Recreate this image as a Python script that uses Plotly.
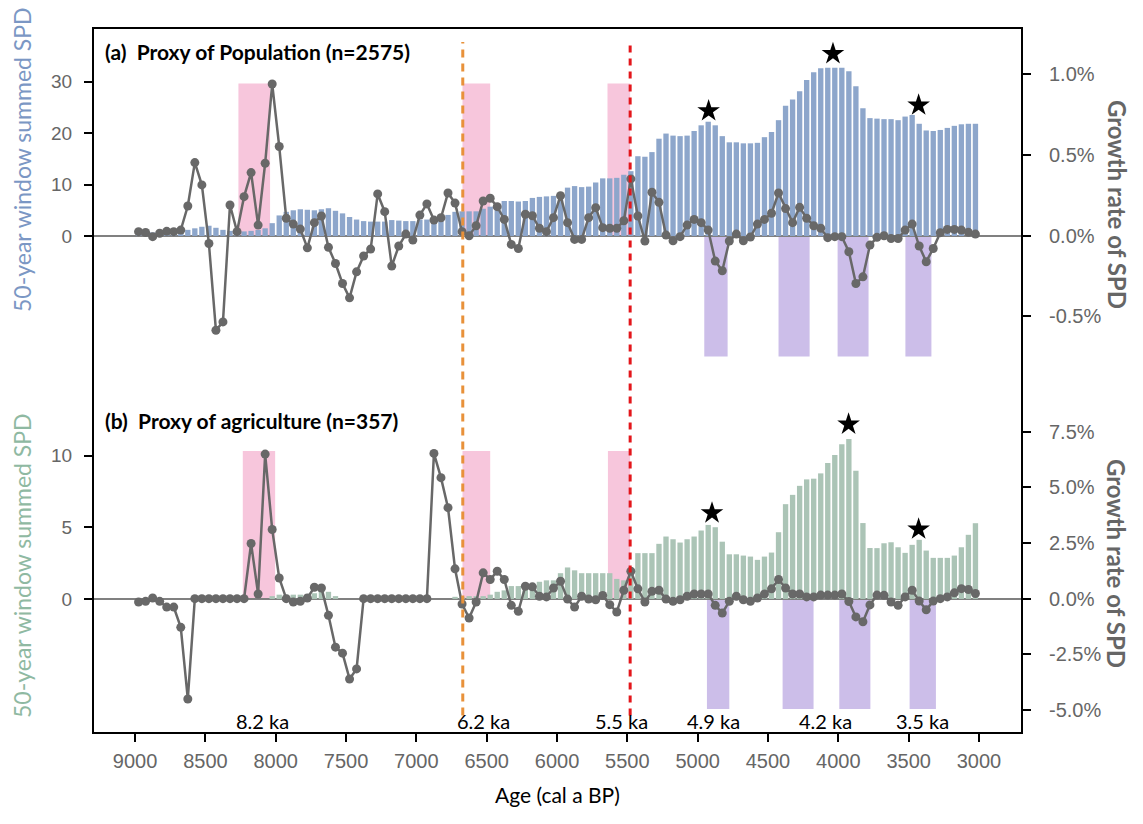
import plotly.graph_objects as go

# 50-year bins, bin centres (cal a BP)
ages = list(range(8975, 2999, -50))

# (a) population proxy: summed SPD (left axis) and growth rate in % (right axis)
spd_pop = [
    0.5, 0.6, 0.7, 0.8, 0.9, 1.0, 1.0, 1.2, 1.5, 1.8,
    2.0, 1.6, 1.2, 1.0, 0.9, 0.9, 1.0, 1.2, 1.5, 2.5,
    4.0, 4.7, 5.0, 5.2, 5.1, 5.0, 5.2, 5.4, 4.9, 4.4,
    3.7, 3.2, 2.9, 2.8, 2.8, 2.8, 3.1, 3.0, 2.9, 2.9,
    3.2, 3.2, 3.4, 3.8, 4.1, 4.7, 4.8, 4.8, 4.8, 5.3,
    5.7, 6.2, 6.8, 6.8, 6.7, 6.8, 7.4, 7.6, 7.7, 7.8,
    7.9, 9.4, 9.7, 9.5, 9.6, 10.4, 11.2, 11.2, 11.3, 11.9,
    12.6, 15.5, 15.4, 16.3, 18.9, 19.9, 19.5, 19.4, 19.5, 20.4,
    21.5, 22.2, 21.5, 19.4, 18.2, 18.2, 18.0, 18.0, 18.1, 19.2,
    20.2, 22.5, 25.3, 26.5, 28.1, 30.3, 31.8, 32.6, 32.7, 32.7,
    32.7, 32.0, 29.1, 24.8, 22.9, 22.8, 22.7, 22.7, 22.5, 23.2,
    23.5, 21.8, 20.5, 20.4, 20.6, 21.0, 21.4, 21.7, 21.8, 21.8,
]
rate_pop = [
    0.025, 0.02, -0.006, 0.015, 0.027, 0.025, 0.035, 0.184, 0.453, 0.315,
    -0.048, -0.586, -0.534, 0.19, 0.025, 0.242, 0.391, 0.066, 0.449, 0.94,
    0.553, 0.108, 0.072, 0.041, -0.075, 0.081, 0.122, -0.072, -0.172, -0.296,
    -0.385, -0.224, -0.126, -0.083, 0.259, 0.149, -0.188, -0.064, 0.01, -0.027,
    0.128, 0.197, 0.097, 0.111, 0.265, 0.202, 0.025, 0.0, 0.062, 0.215,
    0.232, 0.18, 0.101, -0.054, -0.079, 0.133, 0.124, 0.046, 0.025, 0.112,
    0.248, 0.081, -0.023, -0.023, 0.112, 0.174, 0.05, 0.046, 0.046, 0.093,
    0.352, 0.122, -0.033, 0.269, 0.207, 0.004, -0.031, -0.006, 0.066, 0.101,
    0.081, 0.035, -0.157, -0.217, -0.033, 0.01, -0.031, -0.008, 0.072, 0.101,
    0.139, 0.265, 0.168, 0.081, 0.176, 0.108, 0.062, 0.046, -0.012, -0.006,
    -0.006, -0.099, -0.296, -0.255, -0.058, -0.01, 0.0, -0.017, -0.017, 0.035,
    0.072, -0.064, -0.161, -0.079, 0.019, 0.039, 0.039, 0.035, 0.021, 0.01,
]

# (b) agriculture proxy
spd_agr = [
    0, 0, 0, 0, 0, 0, 0, 0, 0, 0,
    0, 0, 0, 0, 0, 0, 0, 0, 0, 0.2,
    0.3, 0.3, 0.3, 0.3, 0.3, 0.4, 0.6, 0.5, 0.2, 0,
    0, 0, 0, 0, 0, 0, 0, 0, 0, 0,
    0, 0, 0, 0, 0, 0.15, 0.15, 0.2, 0.2, 0.2,
    0.3, 0.5, 0.6, 0.9, 0.9, 0.9, 1.0, 1.2, 1.3, 1.3,
    1.8, 2.2, 2.0, 1.8, 1.8, 1.8, 1.8, 1.8, 1.4, 1.3,
    1.6, 3.2, 3.2, 3.2, 3.85, 4.36, 4.17, 3.94, 4.17, 4.36,
    4.78, 5.17, 5.01, 4.0, 3.12, 3.12, 3.03, 2.96, 2.73, 2.96,
    3.24, 4.66, 6.62, 7.27, 7.9, 8.35, 8.4, 8.77, 9.5, 10.05,
    10.8, 11.17, 8.95, 5.3, 3.56, 3.55, 3.89, 3.96, 3.61, 3.22,
    3.78, 4.13, 3.38, 2.87, 2.87, 2.87, 3.03, 3.61, 4.48, 5.29,
]
rate_agr = [
    -0.15, -0.12, 0.03, -0.12, -0.38, -0.38, -1.29, -4.51, 0, 0,
    0, 0, 0, 0, 0, 0, 2.48, 0.21, 6.5, 3.11,
    0.93, 0.0, -0.15, -0.12, 0.03, 0.51, 0.48, -0.75, -2.18, -2.45,
    -3.61, -3.16, 0, 0, 0, 0, 0, 0, 0, 0,
    0, 0, 6.53, 5.44, 4.09, 1.34, -0.24, -0.87, -0.15, 1.16,
    0.86, 1.23, 0.86, -0.3, -0.57, 0.56, 0.53, 0.11, 0.08, 0.48,
    0.78, -0.02, -0.38, 0.11, -0.02, -0.05, 0.14, -0.27, -0.6, 0.38,
    1.23, 0.44, -0.15, 0.33, 0.38, -0.02, -0.12, -0.05, 0.11, 0.21,
    0.21, 0.21, -0.3, -0.65, -0.12, 0.11, -0.05, -0.12, 0.03, 0.21,
    0.44, 0.86, 0.48, 0.21, 0.21, 0.08, 0.08, 0.16, 0.16, 0.16,
    0.21, -0.13, -0.82, -1.04, -0.28, 0.16, 0.15, -0.15, -0.3, 0.08,
    0.38, -0.11, -0.5, -0.11, 0.0, 0.08, 0.26, 0.45, 0.41, 0.23,
]

# peaks marked with stars
star_age_pop = [4922, 4038, 3429]
star_val_pop = [24.3, 35.4, 25.4]
star_age_agr = [4898, 3927, 3429]
star_val_agr = [6.0, 12.2, 4.87]

# pink (growth) and purple (decline) windows, age start/end
pink_pop = [(8265, 8040), (6672, 6475), (5641, 5480)]
pink_agr = [(8234, 8004), (6672, 6475), (5638, 5480)]
purple_pop = [(4953, 4787), (4425, 4204), (4005, 3785), (3523, 3338)]
purple_agr = [(4934, 4775), (4396, 4176), (3993, 3772), (3493, 3306)]

event_labels = ["8.2 ka", "6.2 ka", "5.5 ka", "4.9 ka", "4.2 ka", "3.5 ka"]
event_label_age = [8097, 6525, 5543, 4889, 4093, 3403]
line_62 = 6670
line_55 = 5480

BLUE = "#8da6cb"
GREEN = "#abc4b6"
GREY = "#686868"
PINK = "#f7c6dc"
PURPLE = "#ccbee9"
TICK = "#666666"
FONT = "Lato"

fig = go.Figure()

fig.add_trace(go.Bar(x=ages, y=spd_pop, width=38, marker=dict(color=BLUE, line=dict(width=0)),
                     xaxis="x", yaxis="y", showlegend=False))
fig.add_trace(go.Scatter(x=ages, y=rate_pop, mode="lines+markers", line=dict(color=GREY, width=2.5),
                         marker=dict(color=GREY, size=9), xaxis="x", yaxis="y2", showlegend=False))
fig.add_trace(go.Scatter(x=star_age_pop, y=star_val_pop, mode="markers",
                         marker=dict(symbol="star", size=17, color="black"),
                         xaxis="x", yaxis="y", showlegend=False))

fig.add_trace(go.Bar(x=ages, y=spd_agr, width=38, marker=dict(color=GREEN, line=dict(width=0)),
                     xaxis="x", yaxis="y3", showlegend=False))
fig.add_trace(go.Scatter(x=ages, y=rate_agr, mode="lines+markers", line=dict(color=GREY, width=2.5),
                         marker=dict(color=GREY, size=9), xaxis="x", yaxis="y4", showlegend=False))
fig.add_trace(go.Scatter(x=star_age_agr, y=star_val_agr, mode="markers",
                         marker=dict(symbol="star", size=17, color="black"),
                         xaxis="x", yaxis="y3", showlegend=False))

shapes = []
for a0, a1 in pink_pop:
    shapes.append(dict(type="rect", xref="x", yref="y", x0=a0, x1=a1, y0=0, y1=29.6,
                       fillcolor=PINK, line=dict(width=0), layer="below"))
for a0, a1 in pink_agr:
    shapes.append(dict(type="rect", xref="x", yref="y3", x0=a0, x1=a1, y0=0, y1=10.33,
                       fillcolor=PINK, line=dict(width=0), layer="below"))
for a0, a1 in purple_pop:
    shapes.append(dict(type="rect", xref="x", yref="y2", x0=a0, x1=a1, y0=0, y1=-0.748,
                       fillcolor=PURPLE, line=dict(width=0), layer="below"))
for a0, a1 in purple_agr:
    shapes.append(dict(type="rect", xref="x", yref="y4", x0=a0, x1=a1, y0=0, y1=-4.96,
                       fillcolor=PURPLE, line=dict(width=0), layer="below"))
shapes.append(dict(type="line", xref="x", yref="paper", x0=line_62, x1=line_62, y0=0.025, y1=0.98,
                   line=dict(color="#e8913a", width=3, dash="8px,6px")))
shapes.append(dict(type="line", xref="x", yref="paper", x0=line_55, x1=line_55, y0=0.025, y1=0.98,
                   line=dict(color="#e3161b", width=3, dash="7px,6px")))
shapes.append(dict(type="rect", xref="paper", yref="paper", x0=0, x1=1, y0=0, y1=1,
                   line=dict(color="black", width=2)))


def note(x, y, text, size, color, xref="paper", xanchor="center", angle=0):
    return dict(x=x, y=y, xref=xref, yref="paper", text=text, showarrow=False,
                xanchor=xanchor, yanchor="middle", textangle=angle,
                font=dict(family=FONT, size=size, color=color))


annotations = [note(age, 0.017, lab, 20, "black", xref="x")
               for lab, age in zip(event_labels, event_label_age)]
annotations += [
    note(0.0108, 0.9664, "<b>(a)  Proxy of Population (n=2575)</b>", 21, "black", xanchor="left"),
    note(0.0108, 0.4426, "<b>(b)  Proxy of agriculture (n=357)</b>", 21, "black", xanchor="left"),
    note(-0.0764, 0.8128, "50-year window summed SPD", 23, "#7b97c4", angle=-90),
    note(-0.0764, 0.2369, "50-year window summed SPD", 23, "#8fb9a2", angle=-90),
    note(1.1023, 0.7504, "<b>Growth rate of SPD</b>", 24, TICK, angle=90),
    note(1.1023, 0.2411, "<b>Growth rate of SPD</b>", 24, TICK, angle=90),
    note(0.5, -0.0875, "Age (cal a BP)", 21, "black"),
]

common_y = dict(showgrid=False, ticks="outside", ticklen=8, tickwidth=2, tickcolor="black",
                showline=False, anchor="x")
left_font = dict(family="Liberation Sans", size=19, color=TICK)
right_font = dict(family="Liberation Sans", size=20, color=TICK)

fig.update_layout(
    width=1143, height=824,
    margin=dict(l=93, r=121, t=28, b=91),
    plot_bgcolor="white", paper_bgcolor="white",
    shapes=shapes,
    annotations=annotations,
    xaxis=dict(range=[9299, 2694], tickvals=list(range(9000, 2999, -500)), showgrid=False,
               zeroline=False, ticks="outside", ticklen=8, tickwidth=2, tickcolor="black",
               tickfont=dict(family="Liberation Sans", size=20, color=TICK), anchor="y3",
               ticklabelstandoff=2),
    yaxis=dict(domain=[0.5007, 1], range=[-27.96, 40.4], tickvals=[0, 10, 20, 30],
               zeroline=True, zerolinecolor="#808080", zerolinewidth=1.5, ticklabelstandoff=8,
               tickfont=left_font, **common_y),
    yaxis2=dict(domain=[0.5007, 1], range=[-0.894, 1.287], overlaying="y", side="right",
                tickvals=[-0.5, 0, 0.5, 1.0], ticktext=["-0.5%", "0.0%", "0.5%", "1.0%"],
                zeroline=False, ticklabelstandoff=14, tickfont=right_font, **common_y),
    yaxis3=dict(domain=[0, 0.5007], range=[-9.36, 15.29], tickvals=[0, 5, 10],
                zeroline=True, zerolinecolor="#808080", zerolinewidth=1.5, ticklabelstandoff=8,
                tickfont=left_font, **common_y),
    yaxis4=dict(domain=[0, 0.5007], range=[-6.04, 9.83], overlaying="y3", side="right",
                tickvals=[-5, -2.5, 0, 2.5, 5, 7.5],
                ticktext=["-5.0%", "-2.5%", "0.0%", "2.5%", "5.0%", "7.5%"],
                zeroline=False, ticklabelstandoff=14, tickfont=right_font, **common_y),
)

fig.write_html("out.html", config={"displayModeBar": False},
               post_script="document.body.style.margin='0';")
